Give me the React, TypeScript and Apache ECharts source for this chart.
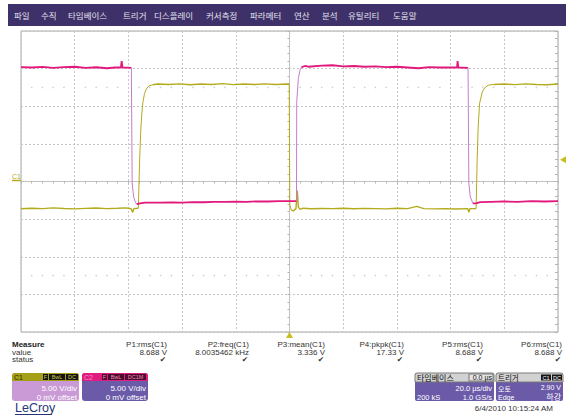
import React, { useEffect, useRef } from "react";
import * as echarts from "echarts";

// ---------- data ----------
const menuItems = ["파일", "수직", "타임베이스", "트리거", "디스플레이", "커서측정", "파라메터", "연산", "분석", "유틸리티", "도움말"];

const paramNames = ["P1:rms(C1)", "P2:freq(C1)", "P3:mean(C1)", "P4:pkpk(C1)", "P5:rms(C1)", "P6:rms(C1)"];
const paramValues = ["8.688 V", "8.0035462 kHz", "3.336 V", "17.33 V", "8.688 V", "8.688 V"];

// time in µs (trigger at 0), voltage in V
const c1Low1 = [[-100, -3.62], [-96, -3.55], [-92, -3.6], [-88, -3.5], [-84, -3.58], [-80, -3.64], [-76, -3.57], [-72, -3.52], [-68, -3.6], [-64, -3.55], [-61, -3.5], [-59, -3.62], [-58.4, -4.1], [-58, -3.6], [-56.3, -3.55]];
const c1Rise1 = [[-56.3, -3.55], [-55.8, 3.0], [-55.4, 6.8], [-55.0, 9.0], [-54.6, 10.5], [-54.0, 11.7], [-53.3, 12.3], [-52.4, 12.7], [-51, 12.85]];
const c1High1 = [[-51, 12.85], [-49, 12.95], [-45, 12.9], [-41, 12.98], [-37, 12.85], [-33, 12.95], [-29, 12.9], [-25, 13.0], [-21, 12.88], [-17, 12.96], [-13, 12.9], [-9, 12.98], [-5, 12.9], [-1, 12.95], [-0.1, 12.9]];
const c1Fall1 = [[-0.1, 12.9], [0.1, -3.0], [0.6, -3.8]];
const c1Low2 = [[0.6, -3.8], [1.4, -3.9], [2.4, -3.6], [2.9, -1.2], [3.3, -3.4], [4, -3.7], [5, -3.55], [8, -3.62], [12, -3.58], [16, -3.6], [20, -3.55], [24, -3.62], [28, -3.57], [32, -3.6], [36, -3.64], [40, -3.56], [44, -3.6], [47.4, -3.3], [50, -3.6], [54, -3.64], [58, -3.6], [62, -3.66], [66.4, -3.6], [66.8, -4.1], [67.2, -3.6], [69.5, -3.6]];
const c1Rise2 = [[69.5, -3.6], [69.9, 3.0], [70.3, 7.5], [70.8, 10.4], [71.8, 11.9], [72.6, 12.4], [74, 12.8], [76, 12.9]];
const c1High2 = [[76, 12.9], [80, 12.95], [84, 12.88], [88, 12.98], [92, 12.9], [96, 12.85], [100, 12.95]];

const c2High1 = [[-100, 15.2], [-96, 15.15], [-92, 15.22], [-88, 15.1], [-84, 15.2], [-80, 15.25], [-76, 15.1], [-72, 15.18], [-68, 15.05], [-65, 15.15], [-62.8, 15.15], [-62.5, 16.0], [-62.2, 15.15], [-60, 15.12], [-58.9, 15.1]];
const c2Fall1 = [[-58.9, 15.1], [-58.6, -0.2], [-58.3, -1.2], [-58.0, -2.1], [-57.4, -2.75], [-56.9, -3.0]];
const c2Low1 = [[-56.9, -3.0], [-55.7, -2.9], [-53.8, -2.8], [-52, -2.82], [-48, -2.82], [-44, -2.78], [-40, -2.8], [-36, -2.74], [-32, -2.76], [-28, -2.7], [-24, -2.72], [-20, -2.68], [-16, -2.7], [-12, -2.64], [-8, -2.66], [-4, -2.6], [0, -2.62], [2.6, -2.6]];
const c2Rise1 = [[2.6, -2.6], [2.7, 10.6], [3.3, 13.7], [3.9, 14.8], [4.5, 15.2]];
const c2High2 = [[4.5, 15.2], [5.8, 15.35], [7, 15.25], [12, 15.4], [16, 15.45], [20, 15.3], [24, 15.35], [28, 15.25], [32, 15.3], [36, 15.2], [40, 15.25], [44, 15.15], [48, 15.05], [52, 15.2], [56, 15.15], [60, 15.15], [62.4, 15.15], [62.6, 16.0], [62.9, 15.15], [66.5, 15.1]];
const c2Fall2 = [[66.5, 15.1], [66.8, -0.2], [67.3, -2.0], [68.3, -2.9]];
const c2Low2 = [[68.3, -2.9], [69.5, -2.9], [71, -2.75], [75, -2.7], [80, -2.65], [85, -2.7], [90, -2.62], [95, -2.66], [100, -2.6]];

const triggerTime = 0;
const triggerLevel = 2.9;

// graticule dot rows
const divisionStarts = [-100, -80, -60, -40, -20, 0, 20, 40, 60, 80];
const dotOffsets = [4, 8, 12, 16];
const dotLevels = [12.5, -12.5];

// ---------- styles ----------
const YELLOW = "#b3ab1c";
const MAGENTA = "#e2187c";
const MAGENTA_EDGE = "#c77ccb";
const BAR = "#3e3169";
const BOX_PURPLE = "#6a5aa8";
const FONT = "Liberation Sans, Arial, sans-serif";
const KFONT = "Noto Sans CJK KR, sans-serif";

const menuX = [14, 41, 68, 123, 154, 206, 250, 294, 322, 348, 393];
const paramRight = [167, 249, 325, 404, 483, 562];

function txt(text: string, x: number, y: number, o: any = {}) {
  return {
    type: "text",
    x,
    y,
    silent: true,
    style: {
      text,
      fill: o.fill || "#333",
      fontSize: o.fontSize || 8,
      fontFamily: o.fontFamily || FONT,
      fontWeight: o.fontWeight || "normal",
      align: o.align || "left",
      verticalAlign: "middle",
    },
  };
}
function rect(x: number, y: number, w: number, h: number, fill: string, r: any = 0, stroke?: string) {
  return { type: "rect", silent: true, shape: { x, y, width: w, height: h, r }, style: { fill, stroke: stroke || null, lineWidth: 1 } };
}
function tag(x: number, w: number, y: number, text: string, bg: string, fg: string) {
  return [rect(x, y, w, 6, bg), txt(text, x + w / 2, y + 3.2, { fill: fg, fontSize: 5.5, align: "center" })];
}

export default function App() {
  const ref = useRef<HTMLDivElement>(null);
  useEffect(() => {
    if (!ref.current) return;
    const chart = echarts.init(ref.current, null, { renderer: "svg" });

    const dots: number[][] = [];
    dotLevels.forEach((v) => divisionStarts.forEach((d) => dotOffsets.forEach((o) => dots.push([d + o, v]))));

    const seg = (data: number[][], color: string, width: number, extra: any = {}) => ({
      type: "line",
      data,
      showSymbol: false,
      symbol: "none",
      lineStyle: { color, width },
      itemStyle: { color },
      silent: true,
      z: 3,
      ...extra,
    });

    const graphic: any[] = [];
    // menu bar
    graphic.push(rect(8, 4, 558, 22, BAR));
    menuItems.forEach((m, i) => graphic.push(txt(m, menuX[i], 15, { fill: "#e4e2ee", fontSize: 8.5, fontFamily: KFONT })));

    // C1 ground marker
    graphic.push(txt("C1", 12, 176, { fill: YELLOW, fontSize: 7 }));
    graphic.push({ type: "line", silent: true, shape: { x1: 12, y1: 180.5, x2: 21, y2: 180.5 }, style: { stroke: YELLOW, lineWidth: 1.5 } });

    // measure panel
    graphic.push(txt("Measure", 12, 344, { fontWeight: "bold", fill: "#222" }));
    graphic.push(txt("value", 12, 352));
    graphic.push(txt("status", 12, 359.5));
    paramNames.forEach((p, i) => {
      graphic.push(txt(p, paramRight[i], 344, { align: "right" }));
      graphic.push(txt(paramValues[i], paramRight[i], 352, { align: "right" }));
      graphic.push(txt("✔", paramRight[i] - 1, 359.5, { align: "right", fill: "#333", fontFamily: "DejaVu Sans", fontSize: 7.5 }));
    });

    // C1 box
    graphic.push(rect(12, 373, 67, 28, "#c99ad6", 3));
    graphic.push(rect(12, 373, 67, 8, "#a59f18", [3, 3, 0, 0]));
    graphic.push(txt("C1", 14, 377.3, { fill: "#2a2800", fontSize: 7 }));
    graphic.push(...tag(43, 5, 374, "F", "#151515", "#d2c844"));
    graphic.push(...tag(49, 16, 374, "BwL", "#151515", "#d2c844"));
    graphic.push(...tag(66, 12, 374, "DC", "#151515", "#d2c844"));
    graphic.push(txt("5.00 V/div", 77, 388.5, { fill: "#fff", fontSize: 8, align: "right" }));
    graphic.push(txt("0 mV offset", 77, 397, { fill: "#fff", fontSize: 8, align: "right" }));

    // C2 box
    graphic.push(rect(82, 373, 66, 28, BOX_PURPLE, 3));
    graphic.push(rect(82, 373, 66, 8, "#e11b7f", [3, 3, 0, 0]));
    graphic.push(txt("C2", 84, 377.3, { fill: "#f58cc0", fontSize: 7 }));
    graphic.push(...tag(102, 5, 374, "F", "#4a0d2c", "#f38abd"));
    graphic.push(...tag(108, 16, 374, "BwL", "#4a0d2c", "#f38abd"));
    graphic.push(...tag(125, 21, 374, "DC1M", "#4a0d2c", "#f38abd"));
    graphic.push(txt("5.00 V/div", 146, 388.5, { fill: "#fff", fontSize: 8, align: "right" }));
    graphic.push(txt("0 mV offset", 146, 397, { fill: "#fff", fontSize: 8, align: "right" }));

    // LeCroy logo
    graphic.push(txt("LeCroy", 15, 407.5, { fill: "#253575", fontSize: 12.5 }));
    graphic.push({ type: "line", silent: true, shape: { x1: 15, y1: 414.5, x2: 52, y2: 414.5 }, style: { stroke: "#253575", lineWidth: 1 } });

    // timebase box
    graphic.push(rect(415, 373, 79, 28, BOX_PURPLE, 2));
    graphic.push(rect(415, 373, 79, 9, "#d2d2d2", [2, 2, 0, 0], "#7a7a7a"));
    graphic.push(txt("타임베이스", 417, 377.4, { fill: "#111", fontSize: 8, fontFamily: KFONT }));
    graphic.push(rect(469, 374, 24, 7, "#e4e4e4", 0, "#777"));
    graphic.push(txt("0.0 µs", 492, 377.6, { fill: "#111", fontSize: 7, align: "right" }));
    graphic.push(txt("20.0 µs/div", 492, 388.5, { fill: "#fff", fontSize: 7.5, align: "right" }));
    graphic.push(txt("200 kS", 417, 397, { fill: "#fff", fontSize: 7.5 }));
    graphic.push(txt("1.0 GS/s", 492, 397, { fill: "#fff", fontSize: 7.5, align: "right" }));

    // trigger box
    graphic.push(rect(496, 373, 67, 28, BOX_PURPLE, 2));
    graphic.push(rect(496, 373, 67, 9, "#d2d2d2", [2, 2, 0, 0], "#7a7a7a"));
    graphic.push(txt("트리거", 498, 377.4, { fill: "#111", fontSize: 7.5, fontFamily: KFONT }));
    graphic.push(...tag(541, 10, 374.5, "C1", "#151515", "#ffffff"));
    graphic.push(...tag(552, 10, 374.5, "DC", "#151515", "#ffffff"));
    graphic.push(txt("오토", 498, 388.8, { fill: "#fff", fontSize: 7, fontFamily: KFONT }));
    graphic.push(txt("2.90 V", 561, 387.8, { fill: "#fff", fontSize: 7, align: "right" }));
    graphic.push(txt("Edge", 498, 397.6, { fill: "#fff", fontSize: 7 }));
    graphic.push(txt("하강", 561, 396.8, { fill: "#fff", fontSize: 8, fontFamily: KFONT, align: "right" }));

    // date
    graphic.push(txt("6/4/2010 10:15:24 AM", 553, 408, { fill: "#333", fontSize: 8, align: "right" }));

    const tickColor = "#b4b4b4";
    const splitStyle = { color: "#c6c6c6", type: [2, 2], width: 1 };

    const option: any = {
      animation: false,
      backgroundColor: "#ffffff",
      grid: { left: 21, top: 31, right: 12, bottom: 87, show: true, borderColor: "#a6a6a6", borderWidth: 1, backgroundColor: "transparent" },
      xAxis: [
        {
          type: "value",
          min: -100,
          max: 100,
          interval: 20,
          axisLine: { show: true, onZero: true, lineStyle: { color: "#c2c2c2", width: 1 } },
          axisTick: { show: true, length: 2, lineStyle: { color: tickColor } },
          minorTick: { show: true, splitNumber: 5, length: 2, lineStyle: { color: tickColor } },
          axisLabel: { show: false },
          splitLine: { show: true, lineStyle: splitStyle },
        },
      ],
      yAxis: [
        {
          type: "value",
          min: -20,
          max: 20,
          interval: 5,
          axisLine: { show: true, onZero: true, lineStyle: { color: "#c2c2c2", width: 1 } },
          axisTick: { show: true, length: 2, lineStyle: { color: tickColor } },
          minorTick: { show: true, splitNumber: 5, length: 2, lineStyle: { color: tickColor } },
          axisLabel: { show: false },
          splitLine: { show: true, lineStyle: splitStyle },
        },
        {
          type: "value",
          min: -20,
          max: 20,
          interval: 5,
          position: "right",
          axisLine: { show: false, onZero: false },
          axisTick: { show: true, inside: true, length: 3, lineStyle: { color: tickColor } },
          minorTick: { show: true, splitNumber: 5, length: 3, lineStyle: { color: tickColor } },
          axisLabel: { show: false },
          splitLine: { show: false },
        },
      ],
      graphic,
      series: [
        { type: "scatter", data: dots, symbol: "circle", symbolSize: 1.6, itemStyle: { color: "#c4c4c4" }, silent: true, z: 1 },
        seg(c1Low1, YELLOW, 1.4, {
          markPoint: {
            silent: true,
            label: { show: false },
            data: [
              { coord: [triggerTime, -20], symbol: "triangle", symbolSize: [7, 6], symbolOffset: [0, 3], itemStyle: { color: "#c8bf1c" } },
              { coord: [100, triggerLevel], symbol: "triangle", symbolSize: [7, 6], symbolRotate: 90, symbolOffset: [5, 0], itemStyle: { color: "#c8bf1c" } },
            ],
          },
        }),
        seg(c1Rise1, YELLOW, 1),
        seg(c1High1, YELLOW, 1.4),
        seg(c1Fall1, YELLOW, 1),
        seg(c1Low2, YELLOW, 1.4),
        seg(c1Rise2, YELLOW, 1),
        seg(c1High2, YELLOW, 1.4),
        seg(c2High1, MAGENTA, 1.8),
        seg(c2Fall1, MAGENTA_EDGE, 1),
        seg(c2Low1, MAGENTA, 1.8),
        seg(c2Rise1, MAGENTA_EDGE, 1),
        seg(c2High2, MAGENTA, 1.8),
        seg(c2Fall2, MAGENTA_EDGE, 1),
        seg(c2Low2, MAGENTA, 1.8),
      ],
    };
    chart.setOption(option);
    return () => chart.dispose();
  }, []);

  return <div ref={ref} style={{ position: "fixed", left: 0, top: 0, width: 570, height: 419, background: "#fff" }} />;
}
